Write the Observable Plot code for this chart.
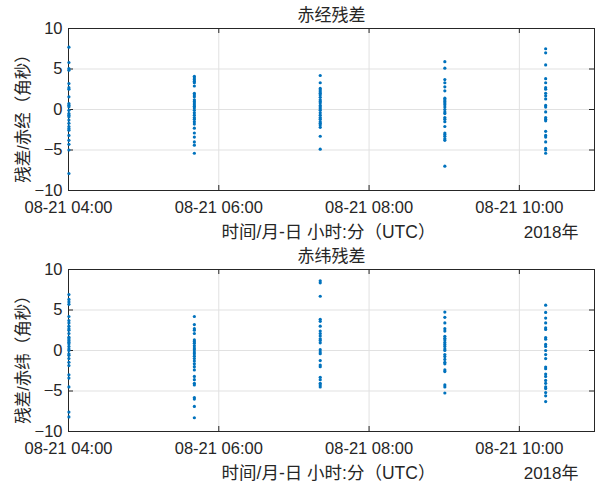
<!DOCTYPE html>
<html><head><meta charset="utf-8">
<script src="https://cdn.jsdelivr.net/npm/d3@7"></script>
<script src="https://cdn.jsdelivr.net/npm/@observablehq/plot@0.6"></script>
<style>body{margin:0;background:#fff;} #chart svg{display:block;}</style>
</head><body><div id="chart"></div>
<script>
// observation cluster times (UTC, 2018-08-21)
const clusterTimes = ["2018-08-21T04:00:20Z","2018-08-21T05:40:30Z","2018-08-21T07:21:00Z","2018-08-21T09:00:30Z","2018-08-21T10:21:00Z"];
const xDomain = ["2018-08-21T04:00:00Z","2018-08-21T11:00:00Z"];
const xTickTimes = ["2018-08-21T04:00:00Z","2018-08-21T06:00:00Z","2018-08-21T08:00:00Z","2018-08-21T10:00:00Z"];
const yTicks = [-10,-5,0,5,10];

// 赤经残差 (arcsec), one array per cluster
const ra1 = [7.7,5.8,5.06,4.86,3.2,2.7,2.5,1.56,0.74,0.53,0.33,-0.1,-0.5,-0.7,-0.9,-1.3,-1.7,-2.1,-2.35,-2.55,-3.2,-3.8,-4.3,-5.0,-7.9];
const ra2 = [4.1,3.9,3.7,3.5,3.3,2.9,2.0,1.8,1.56,1.2,1.0,0.8,0.6,0.4,0.2,-0.1,-0.4,-0.7,-1.0,-1.2,-1.5,-1.8,-2.3,-2.9,-3.4,-4.0,-4.4,-5.4];
const ra3 = [4.2,3.3,2.6,2.4,2.2,2.0,1.8,1.5,1.2,1.0,0.8,0.5,0.3,0.1,-0.1,-0.4,-0.7,-1.0,-1.2,-1.5,-1.7,-1.9,-2.2,-3.3,-4.9];
const ra4 = [5.9,5.1,3.7,3.3,2.8,2.3,1.4,1.2,1.0,0.8,0.6,0.3,0.0,-0.3,-0.5,-1.0,-1.2,-1.5,-2.1,-2.9,-3.1,-3.3,-3.6,-3.8,-7.0];
const ra5 = [7.5,7.0,5.5,3.8,3.3,2.7,2.5,2.0,1.7,1.3,0.5,0.3,-0.3,-1.0,-1.2,-1.4,-2.7,-3.2,-3.4,-4.0,-4.8,-5.0,-5.4];

// 赤纬残差 (arcsec)
const dec1 = [6.9,6.3,6.0,5.7,4.2,3.7,3.4,3.0,2.7,2.5,2.1,1.65,1.45,1.24,1.03,0.83,0.5,0.2,0.0,-0.4,-0.6,-1.0,-1.45,-1.86,-3.0,-3.4,-4.5,-7.6,-8.2];
const dec2 = [4.2,3.2,2.7,2.5,2.1,1.3,1.1,0.9,0.6,0.3,0.1,-0.2,-0.4,-0.7,-1.0,-1.3,-1.65,-2.0,-2.4,-3.2,-3.6,-4.05,-4.25,-5.8,-6.0,-6.9,-8.3];
const dec3 = [8.6,8.35,6.7,3.85,3.6,3.0,2.4,2.1,1.8,1.45,1.24,0.95,0.1,-0.2,-0.4,-1.24,-1.8,-2.0,-3.3,-3.6,-4.05,-4.25,-4.5];
const dec4 = [4.75,4.1,3.4,2.7,2.4,1.75,1.5,1.3,1.0,0.75,0.5,0.2,0.0,-0.5,-0.75,-1.1,-1.45,-1.65,-2.4,-2.6,-4.25,-4.5,-5.25];
const dec5 = [5.6,4.7,4.0,3.4,2.8,2.6,1.6,1.4,0.75,0.5,0.0,-0.5,-1.0,-2.05,-2.25,-2.9,-3.2,-3.7,-4.05,-4.5,-4.7,-5.2,-5.6,-6.3];

const titles = ["赤经残差","赤纬残差"];
const yLabels = ["残差/赤经（角秒）","残差/赤纬（角秒）"];
const xLabel = "时间/月-日 小时:分（UTC）";
const yearLabel = "2018年";

const FONT = '"Liberation Sans", Arial, "Noto Sans CJK SC", sans-serif';
const INK = "#262626";

function panel(title, ylabel, groups, height, mb) {
  const data = groups.flatMap((vals, i) => vals.map(v => ({t: new Date(clusterTimes[i]), v})));
  const xTicks = xTickTimes.map(s => new Date(s));
  const mt = 28, ml = 68, mr = 2, W = 596;
  const fh = height - mt - mb, fw = W - ml - mr;
  return Plot.plot({
    width: W, height, marginTop: mt, marginBottom: mb, marginLeft: ml, marginRight: mr,
    style: {fontFamily: FONT, fontSize: "16px", color: INK, background: "#fff"},
    x: {type: "utc", domain: xDomain.map(s => new Date(s))},
    y: {domain: [-10, 10]},
    marks: [
      Plot.gridX(xTicks, {stroke: "#e1e1e1", strokeOpacity: 1}),
      Plot.gridY(yTicks, {stroke: "#e1e1e1", strokeOpacity: 1}),
      Plot.tickX(xTicks, {x: d => d, insetBottom: fh - 5, stroke: INK}),
      Plot.tickX(xTicks, {x: d => d, insetTop: fh - 5, stroke: INK}),
      Plot.tickY(yTicks, {y: d => d, insetRight: fw - 5, stroke: INK}),
      Plot.tickY(yTicks, {y: d => d, insetLeft: fw - 5, stroke: INK}),
      Plot.frame({stroke: INK}),
      Plot.dot(data, {x: "t", y: "v", r: 1.6, fill: "#0072BD", stroke: null}),
      Plot.axisX({ticks: xTicks, tickFormat: d3.utcFormat("%m-%d %H:%M"), tickSize: 0, tickPadding: 11, label: null, fill: INK, fontSize: 16.5}),
      Plot.axisY({ticks: yTicks, tickSize: 0, tickPadding: 6, label: null, fill: INK, fontSize: 16.5}),
      Plot.text([title], {frameAnchor: "top", lineAnchor: "middle", dy: -13, fontSize: 17, fill: INK}),
      Plot.text([ylabel], {frameAnchor: "left", textAnchor: "middle", lineAnchor: "middle", rotate: -90, dx: -45, dy: 5, fontSize: 16.5, fill: INK}),
      Plot.text([xLabel], {frameAnchor: "bottom", lineAnchor: "middle", dy: 42, dx: -3, fontSize: 17.5, fill: INK}),
      Plot.text([yearLabel], {frameAnchor: "bottom-right", textAnchor: "end", lineAnchor: "middle", dx: -16, dy: 42, fontSize: 17, fill: INK})
    ]
  });
}

const root = document.getElementById("chart");
root.append(panel(titles[0], yLabels[0], [ra1, ra2, ra3, ra4, ra5], 241, 51));
root.append(panel(titles[1], yLabels[1], [dec1, dec2, dec3, dec4, dec5], 242, 52));
</script>
</body></html>
